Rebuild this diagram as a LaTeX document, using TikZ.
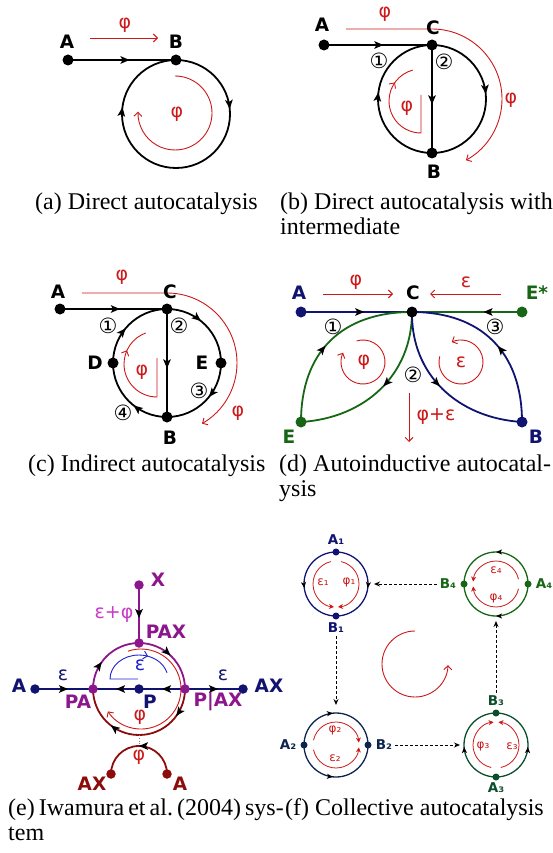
\documentclass[tikz,border=0pt]{standalone}
\usepackage{fontspec}
\setmainfont{Liberation Serif}
\newfontfamily\lbl{DejaVu Sans}
\usetikzlibrary{arrows.meta,decorations.markings}
\definecolor{myred}{RGB}{204,24,24}
\definecolor{navy}{RGB}{16,20,112}
\definecolor{dgreen}{RGB}{22,102,22}
\definecolor{purp}{RGB}{140,22,140}
\definecolor{magen}{RGB}{200,60,200}
\definecolor{dred}{RGB}{140,12,12}
\definecolor{iblue}{RGB}{30,30,210}
\definecolor{navyb}{RGB}{14,36,78}
\definecolor{dgreenb}{RGB}{12,78,44}
\pgfdeclarelayer{bg}
\pgfsetlayers{bg,main}
\tikzset{
  ma/.style={postaction={decorate,decoration={markings,mark=at position #1 with {\arrow[black]{Stealth[length=9pt,width=7.5pt,inset=2pt]}}}}},
  sma/.style={postaction={decorate,decoration={markings,mark=at position #1 with {\arrow[black]{Stealth[length=6pt,width=5pt,inset=1.5pt]}}}}},
  tma/.style={postaction={decorate,decoration={markings,mark=at position #1 with {\arrow{Straight Barb[length=4pt,width=8pt]}}}}},
  dot/.style={circle,fill,inner sep=0pt,minimum size=11pt},
  mdot/.style={circle,fill,inner sep=0pt,minimum size=9.5pt},
  sdot/.style={circle,fill,inner sep=0pt,minimum size=7pt},
  lab/.style={inner sep=0pt,font=\lbl\bfseries\fontsize{18.5}{19}\selectfont},
  slab/.style={inner sep=0pt,font=\lbl\bfseries\fontsize{13.5}{14}\selectfont},
  rl/.style={inner sep=0pt,text=myred,font=\lbl\fontsize{19}{19}\selectfont},
  srl/.style={inner sep=0pt,text=myred,font=\lbl\fontsize{12}{12}\selectfont},
  num/.style={inner sep=0pt,font=\lbl\fontsize{21}{21}\selectfont},
  captxt/.style={inner sep=0pt,anchor=base west,font=\fontsize{24}{26}\selectfont},
  blk/.style={line width=1.8pt},
  fline/.style={line width=1.3pt},
  rline/.style={myred,line width=0.9pt},
  rarr/.style={rline,-{Straight Barb[length=4pt,width=8pt]}},
  srarr/.style={myred,line width=0.8pt,-{Stealth[length=5pt,width=5pt]}},
  dasharr/.style={black,line width=1pt,dash pattern=on 3pt off 2pt,-{Stealth[length=6pt,width=5pt]}},
}
\begin{document}
\begin{tikzpicture}[x=1pt,y=-1pt]
\useasboundingbox (0,0) rectangle (553,853);
% ================= (a)
\node[dot] (aA) at (68,60) {};
\node[dot] (aB) at (176,60) {};
\node[lab] (aLA) at (67,42) {A};
\node[lab] (aLB) at (176,42) {B};
\node[rl] (aP1) at (125,25) {φ};
\node[rl] (aP2) at (177,114) {φ};
\coordinate (aR1) at (90,38); \coordinate (aR2) at (158,38);
\coordinate (aR3) at (175,76);
\begin{pgfonlayer}{bg}
\draw[blk,ma=0.57] (aA.center) -- (aB.center);
\draw[blk,ma=0.235,ma=0.77] (aB.center) arc[start angle=-90,end angle=270,radius=54];
\draw[rarr] (aR1) -- (aR2);
\draw[rarr] (aR3) arc[start angle=-90,end angle=182,radius=37];
\end{pgfonlayer}
% ================= (b)
\node[dot] (bA) at (324,45) {};
\node[dot] (bC) at (432,45) {};
\node[dot] (bB) at (432,153) {};
\node[lab] (bLA) at (322,25) {A};
\node[lab] (bLC) at (433,28) {C};
\node[lab] (bLB) at (434,172) {B};
\node[num] (bN1) at (379,61) {①};
\node[num] (bN2) at (444,62) {②};
\node[rl] (bP1) at (385,14) {φ};
\node[rl] (bP2) at (511,100) {φ};
\node[rl] (bP3) at (407,108) {φ};
\coordinate (bR1) at (346,29); \coordinate (bR2) at (432,29);
\coordinate (bR3) at (421,95); \coordinate (bR4) at (421,133);
\begin{pgfonlayer}{bg}
\draw[blk,ma=0.55] (bA.center) -- (bC.center);
\draw[blk,ma=0.55] (bC.center) -- (bB.center);
\draw[blk,ma=0.235,ma=0.77] (bC.center) arc[start angle=-90,end angle=270,radius=54];
\draw[rarr] (bR1) -- (bR2) arc[start angle=-90,end angle=61,radius=70];
\draw[rline,tma=0.83] (bR3) -- (bR4) arc[start angle=90,end angle=255,radius=32];
\end{pgfonlayer}
% ================= (c)
\node[dot] (cA) at (60,309) {};
\node[dot] (cC) at (167,309) {};
\node[dot] (cB) at (167,417) {};
\node[dot] (cD) at (113,363) {};
\node[dot] (cE) at (221,363) {};
\node[lab] (cLA) at (58,292) {A};
\node[lab] (cLC) at (170,292) {C};
\node[lab] (cLB) at (170,438) {B};
\node[lab] (cLD) at (95,363) {D};
\node[lab] (cLE) at (202,363) {E};
\node[num] (cN1) at (108,326) {①};
\node[num] (cN2) at (179,326) {②};
\node[num] (cN3) at (199,391) {③};
\node[num] (cN4) at (123,413) {④};
\node[rl] (cP1) at (122,277) {φ};
\node[rl] (cP2) at (238,413) {φ};
\node[rl] (cP3) at (142,372) {φ};
\coordinate (cR1) at (82,293); \coordinate (cR2) at (167,293);
\coordinate (cR3) at (157,358); \coordinate (cR4) at (157,397);
\begin{pgfonlayer}{bg}
\draw[blk,ma=0.56] (cA.center) -- (cC.center);
\draw[blk,ma=0.55] (cC.center) -- (cB.center);
\draw[blk,ma=0.108,ma=0.358,ma=0.606,ma=0.861] (cC.center) arc[start angle=-90,end angle=270,radius=54];
\draw[rarr] (cR1) -- (cR2) arc[start angle=-90,end angle=60,radius=70];
\draw[rline,tma=0.8] (cR3) -- (cR4) arc[start angle=90,end angle=250,radius=33];
\end{pgfonlayer}
% ================= (d)
\node[dot,navy] (dA) at (301,312) {};
\node[dot] (dC) at (412,312) {};
\node[dot,dgreen] (dEs) at (522,312) {};
\node[dot,dgreen] (dE) at (301,422) {};
\node[dot,navy] (dB) at (522,422) {};
\node[lab,text=navy] (dLA) at (299,293) {A};
\node[lab] (dLC) at (413,293) {C};
\node[lab,text=dgreen] (dLEs) at (537,293) {E*};
\node[lab,text=dgreen] (dLE) at (289,437) {E};
\node[lab,text=navy] (dLB) at (536,437) {B};
\node[num] (dN1) at (333,327) {①};
\node[num] (dN2) at (413,375) {②};
\node[num] (dN3) at (495,327) {③};
\node[rl] (dP1) at (356,282) {φ};
\node[rl] (dE1) at (466,282) {ε};
\node[rl] (dP2) at (364,362) {φ};
\node[rl] (dE2) at (461,362) {ε};
\node[rl] (dPE) at (436,417) {φ+ε};
\coordinate (dR1) at (323,294); \coordinate (dR2) at (393,294);
\coordinate (dR3) at (501,294); \coordinate (dR4) at (430,294);
\coordinate (dR5) at (409,393); \coordinate (dR6) at (409,442);
\coordinate (dCl) at (363,362); \coordinate (dCr) at (461,362);
\begin{pgfonlayer}{bg}
\draw[blk,navy,ma=0.57] (dA.center) -- (dC.center);
\draw[blk,dgreen,ma=0.35] (dEs.center) -- (dC.center);
\draw[blk,dgreen,ma=0.46] (dE.center) .. controls (301,352) and (342,312) .. (dC.center);
\draw[blk,dgreen,ma=0.47] (dC.center) .. controls (412,375) and (365,418) .. (dE.center);
\draw[blk,navy,ma=0.47] (dC.center) .. controls (411,375) and (458,418) .. (dB.center);
\draw[blk,navy,ma=0.46] (dB.center) .. controls (522,352) and (481,312) .. (dC.center);
\draw[rarr] (dR1) -- (dR2);
\draw[rarr] (dR3) -- (dR4);
\draw[rarr] (dR5) -- (dR6);
\draw[rarr] (dCl) ++(-107:22) arc[start angle=-107,end angle=205,radius=22];
\draw[rarr] (dCr) ++(195:22) arc[start angle=195,end angle=-115,radius=22];
\end{pgfonlayer}
% ================= (e)
\node[mdot,purp] (eX) at (139,585) {};
\node[mdot,purp] (ePAX) at (139,643) {};
\node[mdot,navy] (eP) at (139,689) {};
\node[mdot,purp] (ePA) at (93,689) {};
\node[mdot,purp] (ePbAX) at (185,689) {};
\node[mdot,navy] (eA) at (35,689) {};
\node[mdot,navy] (eAX) at (243,689) {};
\node[mdot,dred] (eAX2) at (111,774) {};
\node[mdot,dred] (eA2) at (167,774) {};
\node[lab,text=purp] (eLX) at (158,580) {X};
\node[lab,text=purp] (eLPAX) at (166,632) {PAX};
\node[lab,text=purp] (eLPA) at (78,702) {PA};
\node[lab,text=navy] (eLP) at (150,702) {P};
\node[lab,text=purp] (eLPbAX) at (218,702) {P|AX};
\node[lab,text=navy] (eLA) at (19,686) {A};
\node[lab,text=navy] (eLAX) at (269,686) {AX};
\node[lab,text=dred] (eLAX2) at (92,784) {AX};
\node[lab,text=dred] (eLA2) at (180,784) {A};
\node[rl,text=magen] (eEP) at (114,615) {ε+φ};
\node[rl,text=navy] (eE1) at (63,675) {ε};
\node[rl,text=navy] (eE2) at (223,675) {ε};
\node[rl,text=iblue] (eE3) at (140,665) {ε};
\node[rl] (eP1) at (140,717) {φ};
\node[rl] (eP2) at (139,757) {φ};
\coordinate (eCen) at (141,689);
\coordinate (eB1) at (138,679); \coordinate (eB2) at (110,679);
\coordinate (eD1) at (139,735); \coordinate (eD2) at (139,746);
\begin{pgfonlayer}{bg}
\draw[blk,navy,ma=0.57] (eA.center) -- (ePA.center);
\draw[blk,navy,ma=0.5] (ePbAX.center) -- (eP.center);
\draw[blk,navy,ma=0.5] (eP.center) -- (ePA.center);
\draw[blk,navy,ma=0.57] (ePbAX.center) -- (eAX.center);
\draw[blk,purp,ma=0.57] (eX.center) -- (ePAX.center);
\draw[blk,purp,ma=0.2,ma=0.74] (ePA.center) arc[start angle=180,end angle=360,radius=46];
\draw[blk,dred,ma=0.2,ma=0.71] (ePbAX.center) arc[start angle=0,end angle=180,radius=46];
\draw[gray,line width=0.8pt,dotted] (eD1) -- (eD2);
\draw[blk,dred,ma=0.5] (eA2.center) arc[start angle=0,end angle=-180,radius=28];
\draw[rarr] (eCen) ++(-109:40) arc[start angle=-109,end angle=146,radius=40];
\draw[iblue,line width=0.9pt,tma=0.75] (eB1) -- (eB2) arc[start angle=180,end angle=345,x radius=29,y radius=24];
\end{pgfonlayer}
% ================= (f)
\node[sdot,navy] (f1A) at (336,552) {};
\node[sdot,navy] (f1B) at (336,616) {};
\node[sdot,navyb] (f2A) at (304,745) {};
\node[sdot,navyb] (f2B) at (368,745) {};
\node[sdot,dgreenb] (f3B) at (496,713) {};
\node[sdot,dgreenb] (f3A) at (496,777) {};
\node[sdot,dgreen] (f4A) at (528,584) {};
\node[sdot,dgreen] (f4B) at (464,584) {};
\node[slab,text=navy] (fLA1) at (336,540) {A₁};
\node[slab,text=navy] (fLB1) at (336,628) {B₁};
\node[slab,text=navyb] (fLA2) at (288,745) {A₂};
\node[slab,text=navyb] (fLB2) at (384,745) {B₂};
\node[slab,text=dgreenb] (fLB3) at (496,701) {B₃};
\node[slab,text=dgreenb] (fLA3) at (496,788) {A₃};
\node[slab,text=dgreen] (fLB4) at (448,584) {B₄};
\node[slab,text=dgreen] (fLA4) at (544,584) {A₄};
\node[srl] (fE1) at (323,582) {ε₁};
\node[srl] (fP1) at (349,582) {φ₁};
\node[srl] (fP2) at (335,730) {φ₂};
\node[srl] (fE2) at (335,758) {ε₂};
\node[srl] (fP3) at (483,746) {φ₃};
\node[srl] (fE3) at (512,746) {ε₃};
\node[srl] (fE4) at (496,570) {ε₄};
\node[srl] (fP4) at (496,598) {φ₄};
\coordinate (fC1) at (336,584); \coordinate (fC2) at (336,745);
\coordinate (fC3) at (496,745); \coordinate (fC4) at (496,584);
\coordinate (fBig) at (415,664);
\coordinate (f1R) at (374,584); \coordinate (f2T) at (336,705);
\coordinate (f3L) at (460,745); \coordinate (f4Bt) at (496,621);
\begin{pgfonlayer}{bg}
\draw[fline,navy,sma=0.54] (f1A.center) arc[start angle=270,end angle=90,radius=32];
\draw[fline,navy,sma=0.54] (f1A.center) arc[start angle=-90,end angle=90,radius=32];
\draw[srarr] (fC1) ++(-103:23) arc[start angle=-103,end angle=-265,radius=23];
\draw[srarr] (fC1) ++(-77:23) arc[start angle=-77,end angle=85,radius=23];
\draw[fline,navyb,sma=0.47] (f2A.center) arc[start angle=180,end angle=360,radius=32];
\draw[fline,navyb,sma=0.47] (f2A.center) arc[start angle=180,end angle=0,radius=32];
\draw[srarr] (fC2) ++(-168:23) arc[start angle=-168,end angle=-6,radius=23];
\draw[srarr] (fC2) ++(168:23) arc[start angle=168,end angle=6,radius=23];
\draw[fline,dgreenb,sma=0.48] (f3A.center) arc[start angle=90,end angle=270,radius=32];
\draw[fline,dgreenb,sma=0.48] (f3A.center) arc[start angle=90,end angle=-90,radius=32];
\draw[srarr] (fC3) ++(102:23) arc[start angle=102,end angle=264,radius=23];
\draw[srarr] (fC3) ++(78:23) arc[start angle=78,end angle=-84,radius=23];
\draw[fline,dgreen,sma=0.5] (f4A.center) arc[start angle=0,end angle=-180,radius=32];
\draw[fline,dgreen,sma=0.5] (f4A.center) arc[start angle=0,end angle=180,radius=32];
\draw[srarr] (fC4) ++(-12:23) arc[start angle=-12,end angle=-174,radius=23];
\draw[srarr] (fC4) ++(12:23) arc[start angle=12,end angle=174,radius=23];
\draw[dasharr,shorten <=3pt] (fLB4.west) -- (f1R);
\draw[dasharr,shorten <=3pt] (fLB1.south) -- (f2T);
\draw[dasharr,shorten <=3pt] (fLB2.east) -- (f3L);
\draw[dasharr,shorten <=3pt] (fLB3.north) -- (f4Bt);
\draw[rarr] (fBig) ++(-90:33) arc[start angle=-90,end angle=-358,radius=33];
\end{pgfonlayer}
% ================= captions
\node[captxt] (capa) at (35,209) {(a) Direct autocatalysis};
\node[captxt] (capb) at (280,209) {(b) Direct autocatalysis with};
\node[captxt] (capb2) at (280,234) {intermediate};
\node[captxt] (capc) at (28,471) {(c) Indirect autocatalysis};
\node[captxt] (capd) at (279,471) {(d) Autoinductive autocatal-};
\node[captxt] (capd2) at (279,496) {ysis};
\node[captxt] (cape) at (8,815) {\frenchspacing\spaceskip=0.17em\relax(e) Iwamura et al. (2004) sys-};
\node[captxt] (cape2) at (8,840) {tem};
\node[captxt] (capf) at (285,815) {(f) Collective autocatalysis};
\end{tikzpicture}
\end{document}
